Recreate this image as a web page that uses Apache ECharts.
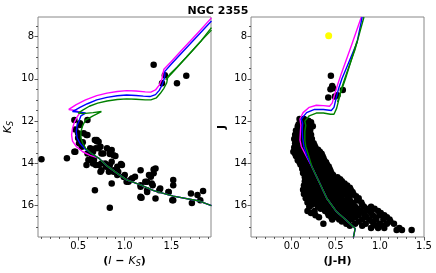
<!DOCTYPE html>
<html><head><meta charset="utf-8">
<script src="https://cdn.jsdelivr.net/npm/echarts@6/dist/echarts.min.js"></script>
<style>html,body{margin:0;padding:0;background:#fff}#c{width:436px;height:273px}</style>
</head><body><div id="c"></div>
<script>
// ---------- tick labels ----------
var yMajor = [8, 10, 12, 14, 16];
var yMinor = [7.5, 8.5, 9, 9.5, 10.5, 11, 11.5, 12.5, 13, 13.5, 14.5, 15, 15.5, 16.5, 17];
var xMajorL = [0.5, 1.0, 1.5];
var xMinorL = [0.1,0.2,0.3,0.4,0.6,0.7,0.8,0.9,1.1,1.2,1.3,1.4,1.6,1.7,1.8,1.9];
var xMajorR = [0.0, 0.5, 1.0, 1.5];
var xMinorR = [-0.4,-0.3,-0.2,-0.1,0.1,0.2,0.3,0.4,0.6,0.7,0.8,0.9,1.1,1.2,1.3,1.4];

// ---------- left panel: (I-Ks) vs Ks stars ----------
var starsIK = [
[1.31,9.34],[1.43,9.83],[1.40,10.21],[1.56,10.21],[1.66,9.86],
[0.46,11.95],[0.52,12.19],[0.60,11.95],[0.50,12.58],[0.60,12.66],[0.70,12.90],
[0.52,12.10],[0.56,12.58],[0.47,12.40],[0.50,12.80],
[0.107,13.80],[0.38,13.76],[0.46,13.45],[0.51,13.05],[0.59,12.66],[0.54,13.21],[0.60,13.53],
[0.68,12.90],[0.72,12.98],[0.63,13.29],[0.69,13.29],[0.74,13.21],[0.81,13.29],[0.86,13.37],
[0.77,13.53],[0.84,13.56],[0.90,13.65],[0.59,14.08],[0.67,13.84],[0.69,14.08],[0.75,14.00],
[0.74,14.40],[0.80,14.16],[0.86,13.92],[0.83,14.40],[0.88,14.40],[0.92,14.16],[0.96,14.03],
[0.92,14.55],[0.99,14.63],[1.04,14.87],[1.08,14.71],[1.11,14.63],[0.86,14.95],[0.68,15.27],
[1.17,14.32],[1.17,15.03],[1.24,14.87],[1.31,14.47],[1.33,14.24],[1.28,14.63],[1.30,15.03],
[1.38,15.19],[1.24,15.27],[1.17,15.58],[1.18,15.62],[1.33,15.66],[1.47,15.35],[1.52,14.79],
[1.52,15.03],[1.52,15.74],[1.71,15.42],[1.78,15.50],[1.84,15.31],[1.72,15.87],[1.81,15.74],
[0.84,16.10],
[0.70,12.95],[0.72,13.29],[0.66,13.45],[0.75,13.53],[0.84,13.45],[0.88,13.61],[0.61,13.84],
[0.65,13.68],[0.66,14.00],[0.72,14.08],[0.75,14.32],[0.79,14.00],[0.84,14.08],[0.88,14.32],
[0.93,14.40],[0.97,14.08],[1.00,14.55],[1.02,14.87],[1.06,14.79],[0.52,13.05],[0.47,13.45],
[0.55,13.00],[1.31,14.29],[1.26,14.55],[1.22,14.87],[1.29,14.95],[1.17,15.10],[1.24,15.35],
[1.37,15.27],[1.47,15.35],[1.51,15.74],[1.17,15.61],[1.08,14.71],[0.99,14.63]
];

// ---------- right panel: (J-H) vs J stars, rows of [J, [J-H values]] ----------
var starRowsJH = [
[11.90,[0.09,0.14]],
[11.98,[0.12,0.19]],
[12.05,[0.10,0.17,0.22]],
[12.15,[0.08,0.14,0.20]],
[12.25,[0.07,0.12,0.19,0.24]],
[12.35,[0.09,0.15,0.21]],
[12.45,[0.05,0.10,0.15,0.21]],
[12.55,[0.07,0.12,0.17,0.20]],
[12.65,[0.04,0.09,0.14,0.19,0.22]],
[12.75,[0.06,0.11,0.16,0.21]],
[12.85,[0.03,0.08,0.13,0.18,0.23]],
[12.95,[0.05,0.10,0.16,0.21]],
[13.05,[0.04,0.09,0.14,0.19,0.25]],
[13.15,[0.06,0.11,0.16,0.21,0.26]],
[13.25,[0.03,0.08,0.13,0.18,0.23,0.27]],
[13.35,[0.05,0.10,0.15,0.20,0.25,0.30]],
[13.45,[0.02,0.07,0.12,0.17,0.22,0.27,0.32]],
[13.55,[0.04,0.09,0.14,0.19,0.24,0.29,0.34]],
[13.65,[0.05,0.10,0.15,0.20,0.25,0.30,0.35]],
[13.75,[0.07,0.12,0.17,0.22,0.27,0.32,0.36]],
[13.85,[0.07,0.12,0.17,0.22,0.27,0.32,0.37]],
[13.95,[0.09,0.14,0.19,0.24,0.29,0.34,0.39]],
[14.05,[0.10,0.15,0.20,0.25,0.30,0.35,0.40]],
[14.15,[0.12,0.17,0.22,0.27,0.32,0.37,0.42]],
[14.25,[0.12,0.17,0.22,0.27,0.32,0.37,0.43]],
[14.35,[0.14,0.19,0.24,0.29,0.34,0.40,0.44]],
[14.45,[0.13,0.18,0.23,0.28,0.33,0.38,0.45]],
[14.55,[0.15,0.20,0.25,0.30,0.35,0.41,0.47]],
[14.65,[0.15,0.20,0.25,0.30,0.35,0.40,0.46,0.52]],
[14.75,[0.17,0.22,0.27,0.32,0.37,0.43,0.49,0.55]],
[14.85,[0.15,0.20,0.25,0.30,0.35,0.40,0.45,0.51,0.57]],
[14.95,[0.17,0.22,0.27,0.32,0.37,0.42,0.48,0.54,0.60]],
[15.05,[0.14,0.19,0.24,0.29,0.34,0.39,0.44,0.50,0.56,0.63]],
[15.15,[0.16,0.21,0.26,0.31,0.36,0.41,0.47,0.53,0.60,0.66]],
[15.25,[0.13,0.18,0.23,0.28,0.33,0.38,0.44,0.50,0.57,0.67]],
[15.35,[0.16,0.21,0.26,0.31,0.36,0.41,0.48,0.55,0.63,0.69]],
[15.45,[0.14,0.20,0.25,0.30,0.35,0.40,0.46,0.52,0.60,0.70]],
[15.55,[0.17,0.23,0.28,0.33,0.38,0.44,0.50,0.57,0.66,0.73]],
[15.65,[0.16,0.22,0.28,0.33,0.38,0.43,0.49,0.55,0.64,0.76]],
[15.75,[0.19,0.25,0.30,0.35,0.40,0.46,0.52,0.58,0.66,0.74]],
[15.85,[0.18,0.26,0.32,0.37,0.42,0.47,0.53,0.60,0.68,0.79]],
[15.95,[0.23,0.29,0.35,0.40,0.45,0.50,0.56,0.63,0.70,0.80]],
[16.05,[0.20,0.30,0.36,0.41,0.46,0.51,0.57,0.64,0.72,0.82,0.90]],
[16.15,[0.33,0.39,0.44,0.49,0.54,0.60,0.67,0.75,0.85,0.94]],
[16.25,[0.18,0.26,0.38,0.44,0.50,0.55,0.62,0.70,0.78,0.88,0.98]],
[16.35,[0.22,0.41,0.47,0.53,0.59,0.66,0.74,0.82,0.90,1.01]],
[16.45,[0.27,0.42,0.48,0.55,0.62,0.69,0.76,0.83,0.92,1.00,1.05]],
[16.55,[0.31,0.45,0.51,0.58,0.65,0.72,0.85,0.95,1.08]],
[16.65,[0.46,0.54,0.60,0.68,0.80,0.88,0.96,1.04,1.11]],
[16.75,[0.57,0.64,0.76,0.91,1.12]],
[16.85,[0.36,0.62,0.72,0.84,0.93,1.00,1.08,1.16]],
[16.95,[0.66,0.80,0.96,1.04]],
[17.05,[0.90,0.98,1.05,1.22]],
[17.15,[1.19,1.25,1.36]]
];
var giantsJH = [[0.445,9.86],[0.46,10.34],[0.47,10.45],[0.44,10.50],[0.415,10.89],[0.49,10.84],[0.52,10.78],[0.58,10.53]];
var yellowJH = [[0.42,7.97]];

// ---------- isochrones, left panel ----------
var msIK = [[1.93,16.0],[1.80,15.78],[1.52,15.55],[1.31,15.29],[1.17,15.02],[1.02,14.78],[0.92,14.47],[0.81,14.12],[0.72,13.75]];
var isoMagIK = [[0.63,13.62],[0.55,13.45],[0.48,13.2],[0.44,12.95],[0.43,12.65],[0.44,12.35],[0.46,12.05],[0.49,11.8],[0.52,11.6],[0.47,11.5],[0.40,11.45],
[0.48,11.22],[0.58,11.0],[0.70,10.8],[0.81,10.68],[0.92,10.6],[1.02,10.56],[1.12,10.58],[1.22,10.62],[1.28,10.63],[1.33,10.53],[1.37,10.3],[1.40,10.0],[1.41,9.75],[1.42,9.55],
[1.50,9.18],[1.60,8.70],[1.70,8.23],[1.80,7.75],[1.93,7.12]];
var isoBlueIK = [[0.64,13.52],[0.57,13.30],[0.52,13.05],[0.49,12.80],[0.48,12.50],[0.49,12.20],[0.51,12.0],[0.53,11.75],[0.58,11.62],[0.50,11.57],[0.44,11.55],
[0.52,11.35],[0.60,11.18],[0.70,11.0],[0.81,10.88],[0.92,10.80],[1.02,10.77],[1.12,10.79],[1.20,10.82],[1.27,10.84],[1.33,10.75],[1.37,10.55],[1.40,10.30],[1.42,10.05],[1.43,9.85],[1.43,9.65],
[1.50,9.30],[1.60,8.83],[1.70,8.36],[1.80,7.88],[1.93,7.27]];
var isoGreenIK = [[0.64,13.52],[0.58,13.28],[0.55,13.05],[0.53,12.8],[0.53,12.5],[0.55,12.2],[0.58,11.95],[0.66,11.75],[0.75,11.55],[0.66,11.6],[0.55,11.65],[0.50,11.62],
[0.55,11.48],[0.62,11.3],[0.71,11.15],[0.81,11.05],[0.92,10.98],[1.02,10.95],[1.12,10.97],[1.22,11.0],[1.28,11.0],[1.34,10.9],[1.38,10.7],[1.42,10.45],[1.45,10.2],[1.46,9.95],
[1.53,9.62],[1.62,9.18],[1.72,8.70],[1.82,8.20],[1.93,7.58]];
var agbGreenIK = [[1.44,10.05],[1.48,9.80],[1.56,9.45],[1.66,8.98],[1.76,8.50],[1.86,8.02],[1.93,7.70]];

// ---------- isochrones, right panel ----------
var msJH = [[0.70,17.5],[0.72,17.08],[0.62,16.69],[0.51,16.29],[0.40,15.66],[0.32,14.95],[0.23,14.16]];
var isoMagJH = [[0.16,13.6],[0.11,13.2],[0.095,12.9],[0.10,12.5],[0.105,12.2],[0.095,11.9],[0.13,11.6],[0.20,11.35],[0.28,11.25],[0.36,11.27],[0.43,11.30],[0.46,11.15],[0.48,10.85],[0.52,10.3],[0.56,9.8],[0.62,9.1],[0.68,8.4],[0.79,7.08]];
var isoBlueJH = [[0.17,13.6],[0.14,13.2],[0.125,12.8],[0.12,12.4],[0.125,12.1],[0.11,11.9],[0.17,11.6],[0.26,11.45],[0.36,11.45],[0.45,11.5],[0.48,11.35],[0.50,11.0],[0.53,10.5],[0.57,10.0],[0.62,9.5],[0.68,8.9],[0.74,8.3],[0.80,7.08]];
var isoGreenJH = [[0.19,13.6],[0.16,13.2],[0.15,12.9],[0.15,12.5],[0.16,12.2],[0.15,12.0],[0.20,11.75],[0.28,11.62],[0.36,11.62],[0.44,11.68],[0.48,11.68],[0.51,11.4],[0.54,10.9],[0.57,10.4],[0.61,9.9],[0.66,9.3],[0.72,8.6],[0.82,7.08]];
var agbGreenJH = [[0.52,11.1],[0.56,10.6],[0.61,10.0],[0.67,9.2],[0.74,8.24]];

// ---------- build ----------
var starsJH = [];
starRowsJH.forEach(function(r){ r[1].forEach(function(x){ starsJH.push([x, r[0]]); }); });
giantsJH.forEach(function(p){ starsJH.push(p); });

var FONT = 'DejaVu Sans';
var TICK = {color:'#333', width:0.8};
function fmt1(v){ return (+v).toFixed(1); }
function majorX(grid, min, max, ticks, name){
  return {type:'value', gridIndex:grid, position:'bottom', min:min, max:max, splitLine:{show:false},
    axisLine:{show:false, onZero:false}, axisTick:{show:true, inside:false, length:3.5, customValues:ticks, lineStyle:TICK},
    axisLabel:{customValues:ticks, formatter:fmt1, fontFamily:FONT, fontSize:10, color:'#000', margin:4},
    name:name.text, nameLocation:'middle', nameGap:17, nameTextStyle:name.style};
}
function minorX(grid, min, max, ticks){
  return {type:'value', gridIndex:grid, position:'bottom', min:min, max:max, splitLine:{show:false},
    axisLine:{show:false, onZero:false}, axisTick:{show:true, length:2, customValues:ticks, lineStyle:TICK},
    axisLabel:{show:false}};
}
function majorY(grid, name){
  return {type:'value', gridIndex:grid, position:'left', inverse:true, min:7.08, max:17.48, splitLine:{show:false},
    axisLine:{show:false, onZero:false}, axisTick:{show:true, length:3.5, customValues:yMajor, lineStyle:TICK},
    axisLabel:{customValues:yMajor, fontFamily:FONT, fontSize:10, color:'#000', margin:4},
    name:name.text, nameLocation:'middle', nameGap:23, nameRotate:90, nameTextStyle:name.style};
}
function minorY(grid){
  return {type:'value', gridIndex:grid, position:'left', inverse:true, min:7.08, max:17.48, splitLine:{show:false},
    axisLine:{show:false, onZero:false}, axisTick:{show:true, length:2, customValues:yMinor, lineStyle:TICK},
    axisLabel:{show:false}};
}
function line(data, color, xi){
  return {type:'line', xAxisIndex:xi, yAxisIndex:xi, data:data, showSymbol:false, symbol:'none', clip:true,
    lineStyle:{color:color, width:1.4}, silent:true, animation:false, z:3};
}
function scatter(data, color, xi, size){
  return {type:'scatter', xAxisIndex:xi, yAxisIndex:xi, data:data, symbolSize:size, itemStyle:{color:color, opacity:1},
    silent:true, animation:false, z:2};
}

var option = {
  animation:false,
  backgroundColor:'#fff',
  title:{text:'NGC 2355', left:'center', top:1, textStyle:{fontFamily:FONT, fontSize:11, fontWeight:'bold', color:'#000'}},
  grid:[
    {left:38, top:17, width:173, height:220, show:true, borderColor:'#888', borderWidth:1, backgroundColor:'transparent'},
    {left:251, top:17, width:173, height:220, show:true, borderColor:'#888', borderWidth:1, backgroundColor:'transparent'}
  ],
  xAxis:[
    majorX(0, 0.07, 1.925, xMajorL, {text:'{p|(}{i|I}{p| − }{i|K}{s|S}{p|)}', style:{rich:{
      p:{fontFamily:FONT, fontSize:11, fontWeight:'bold', color:'#000'},
      i:{fontFamily:FONT, fontSize:11, fontStyle:'italic', color:'#000'},
      s:{fontFamily:FONT, fontSize:8, fontStyle:'italic', color:'#000', verticalAlign:'bottom', padding:[5,0,0,0]}}}}),
    minorX(0, 0.07, 1.925, xMinorL),
    majorX(1, -0.46, 1.5, xMajorR, {text:'(J-H)', style:{fontFamily:FONT, fontSize:11, fontWeight:'bold', color:'#000'}}),
    minorX(1, -0.46, 1.5, xMinorR)
  ],
  yAxis:[
    majorY(0, {text:'{i|K}{s|S}', style:{rich:{
      i:{fontFamily:FONT, fontSize:11, fontStyle:'italic', color:'#000'},
      s:{fontFamily:FONT, fontSize:8, fontStyle:'italic', color:'#000', verticalAlign:'bottom', padding:[5,0,0,0]}}}}),
    minorY(0),
    majorY(1, {text:'J', style:{fontFamily:FONT, fontSize:11, fontWeight:'bold', color:'#000'}}),
    minorY(1)
  ],
  series:[
    scatter(starsIK, '#000', 0, 6.5),
    line(msIK.concat(isoMagIK), '#ff00ff', 0),
    line(msIK.concat(isoBlueIK), '#0000ff', 0),
    line(msIK.concat(isoGreenIK), '#008000', 0),
    line(agbGreenIK, '#008000', 0),
    scatter(starsJH, '#000', 2, 6.5),
    scatter(yellowJH, '#ffff00', 2, 7),
    line(msJH.concat(isoMagJH), '#ff00ff', 2),
    line(msJH.concat(isoBlueJH), '#0000ff', 2),
    line(msJH.concat(isoGreenJH), '#008000', 2),
    line(agbGreenJH, '#008000', 2)
  ]
};
var chart = echarts.init(document.getElementById('c'), null, {renderer:'canvas'});
chart.setOption(option);
</script></body></html>
